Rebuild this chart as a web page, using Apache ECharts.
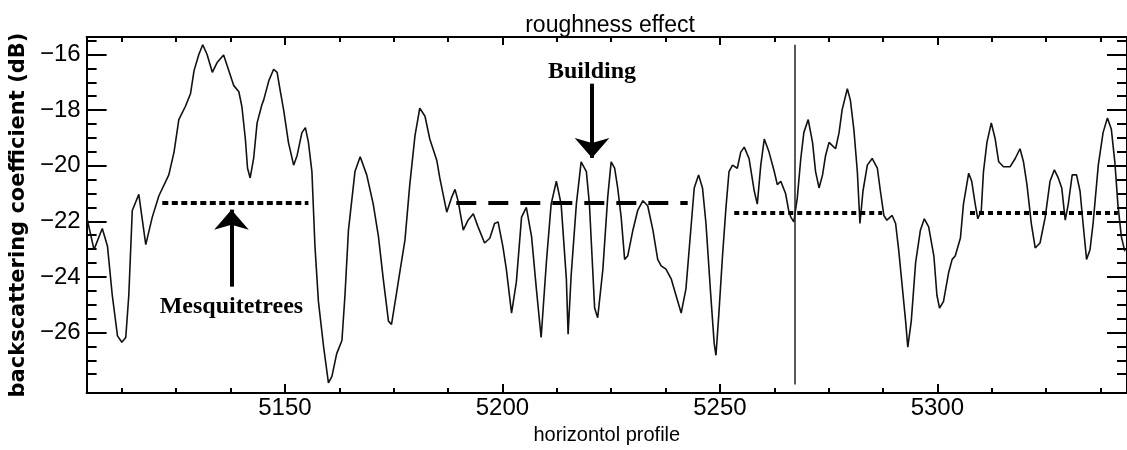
<!DOCTYPE html>
<html>
<head>
<meta charset="utf-8">
<title>roughness effect</title>
<script src="https://cdn.jsdelivr.net/npm/echarts@6/dist/echarts.min.js"></script>
<style>
  html, body { margin: 0; padding: 0; background: #fff; }
  #chart { width: 1127px; height: 450px; }
</style>
</head>
<body>
<div id="chart"></div>
<script>
// backscatter profile
const profileX = [
  5104.5, 5106.1, 5108.0, 5109.2, 5110.3, 5111.5, 5112.5, 5113.4, 5114.1, 5114.9,
  5116.4, 5118.0, 5119.5, 5121.0, 5123.3, 5124.5, 5125.6, 5127.1, 5128.3, 5129.1,
  5130.2, 5131.1, 5132.1, 5133.3, 5134.4, 5135.9, 5137.1, 5138.2, 5139.4, 5140.1,
  5140.9, 5141.4, 5142.0, 5142.8, 5143.6, 5144.7, 5145.1, 5146.3, 5147.4, 5148.2,
  5148.9, 5149.7, 5150.8, 5152.0, 5152.8, 5153.9, 5154.7, 5155.4, 5156.2, 5156.9,
  5157.7, 5158.9, 5160.0, 5160.8, 5161.9, 5163.1, 5163.8, 5164.6, 5166.1, 5167.3,
  5168.8, 5170.3, 5171.5, 5172.6, 5173.8, 5174.5, 5175.7, 5176.4, 5177.6, 5178.7,
  5179.9, 5181.0, 5182.2, 5183.3, 5184.9, 5185.6, 5187.2, 5188.3, 5189.1, 5189.8,
  5191.0, 5192.1, 5193.3, 5194.4, 5195.9, 5197.1, 5198.2, 5199.0, 5200.1, 5200.9,
  5202.1, 5203.2, 5204.4, 5205.5, 5206.7, 5207.8, 5208.9, 5210.1, 5211.2, 5212.4,
  5213.5, 5214.7, 5215.1, 5215.8, 5217.0, 5218.1, 5219.3, 5220.0, 5221.2, 5221.9,
  5223.1, 5224.2, 5225.0, 5225.8, 5226.5, 5227.3, 5228.1, 5228.8, 5230.0, 5231.1,
  5232.3, 5233.4, 5234.6, 5235.7, 5236.5, 5237.6, 5238.8, 5239.9, 5241.1, 5242.2,
  5243.3, 5244.1, 5245.1, 5246.0, 5246.8, 5247.9, 5248.7, 5249.1, 5249.8, 5250.6,
  5251.4, 5252.1, 5252.9, 5254.0, 5254.8, 5255.6, 5256.7, 5257.9, 5258.6, 5259.4,
  5260.2, 5261.3, 5262.5, 5263.2, 5264.0, 5265.1, 5265.8, 5266.3, 5267.0, 5267.8,
  5268.6, 5269.3, 5270.3, 5271.3, 5272.0, 5272.8, 5273.6, 5274.3, 5275.1, 5275.8,
  5276.6, 5277.4, 5278.1, 5279.3, 5280.0, 5280.8, 5281.6, 5282.2, 5282.9, 5283.9,
  5285.0, 5286.2, 5286.9, 5287.7, 5288.4, 5289.6, 5290.4, 5291.1, 5291.9, 5292.7,
  5293.2, 5294.0, 5295.0, 5296.1, 5297.0, 5298.0, 5299.2, 5299.9, 5300.5, 5301.4,
  5302.6, 5303.4, 5304.1, 5305.3, 5306.0, 5307.2, 5307.9, 5308.7, 5309.3, 5310.1,
  5310.6, 5311.4, 5312.4, 5313.3, 5314.1, 5315.2, 5316.7, 5317.9, 5319.0, 5319.8,
  5320.6, 5321.6, 5322.5, 5323.6, 5324.8, 5325.9, 5326.9, 5327.8, 5328.6, 5329.4,
  5330.1, 5331.0, 5332.0, 5332.8, 5333.5, 5334.3, 5335.1, 5335.8, 5337.0, 5338.1,
  5339.1, 5340.0, 5340.8, 5341.5, 5342.3, 5343.1
];
const profileY = [
  -21.90, -23.02, -22.26, -22.90, -24.66, -26.12, -26.35, -26.18, -24.66, -21.61,
  -21.03, -22.84, -21.85, -21.09, -20.33, -19.51, -18.34, -17.87, -17.40, -16.58,
  -16.00, -15.65, -16.00, -16.64, -16.29, -16.02, -16.58, -17.11, -17.34, -17.87,
  -19.04, -20.09, -20.44, -19.74, -18.46, -17.81, -17.64, -16.94, -16.53, -16.64,
  -17.29, -17.99, -19.16, -19.98, -19.63, -18.81, -18.63, -19.16, -20.21, -22.90,
  -24.89, -26.53, -27.81, -27.58, -26.76, -26.29, -24.66, -22.32, -20.21, -19.68,
  -20.33, -21.38, -22.55, -24.07, -25.59, -25.71, -24.54, -23.84, -22.67, -20.68,
  -18.92, -17.93, -18.22, -19.04, -19.80, -20.44, -21.67, -21.15, -20.85, -21.26,
  -22.32, -21.96, -21.73, -22.20, -22.78, -22.61, -22.08, -22.02, -22.90, -23.72,
  -25.30, -24.19, -21.85, -21.50, -22.55, -24.42, -26.18, -23.49, -21.38, -20.56,
  -21.38, -24.07, -26.06, -23.95, -21.38, -19.86, -20.21, -21.38, -25.12, -25.47,
  -23.72, -21.15, -19.86, -20.09, -20.80, -21.85, -23.37, -23.25, -22.32, -21.61,
  -21.26, -21.44, -22.32, -23.37, -23.60, -23.72, -24.07, -24.66, -25.30, -24.42,
  -22.32, -20.80, -20.33, -20.80, -22.08, -24.66, -26.41, -26.82, -25.24, -23.25,
  -21.50, -20.21, -19.98, -20.09, -19.51, -19.33, -19.74, -20.91, -21.38, -19.98,
  -19.04, -19.51, -20.21, -20.68, -20.56, -21.00, -21.60, -21.85, -22.02, -21.15,
  -19.74, -18.81, -18.34, -19.16, -20.21, -20.80, -20.33, -19.63, -19.16, -19.27,
  -19.39, -18.81, -17.99, -17.23, -17.64, -18.69, -20.21, -22.08, -20.91, -19.98,
  -19.74, -20.09, -20.91, -21.79, -21.96, -21.79, -22.08, -23.02, -24.30, -25.59,
  -26.53, -25.59, -23.49, -22.32, -21.91, -22.20, -23.25, -24.66, -25.12, -24.89,
  -23.84, -23.37, -23.25, -22.60, -21.38, -20.27, -20.56, -21.38, -21.91, -21.61,
  -20.21, -19.16, -18.46, -19.04, -19.86, -20.04, -20.04, -19.74, -19.39, -19.86,
  -20.68, -22.08, -22.96, -22.78, -21.85, -20.56, -20.15, -20.44, -20.80, -21.96,
  -21.38, -20.33, -20.33, -20.91, -22.08, -23.37, -23.02, -22.08, -19.98, -18.81,
  -18.28, -18.69, -19.86, -21.38, -22.55, -23.08
];

// axis ticks
const xMajorTicks = [5150, 5200, 5250, 5300];
const xMinorTicks = [5112.5, 5125, 5137.5, 5162.5, 5175, 5187.5, 5212.5, 5225, 5237.5,
  5262.5, 5275, 5287.5, 5312.5, 5325, 5337.5];
const yMajorTicks = [-26, -24, -22, -20, -18, -16];
const yMinorTicks = [-27.5, -27, -26.5, -25.5, -25, -24.5, -23.5, -23, -22.5, -21.5, -21,
  -20.5, -19.5, -19, -18.5, -17.5, -17, -16.5, -15.5];

// mean levels: [x from, x to, level]
const mesquiteLevel = [5121.8, 5155.4, -21.34];
const buildingLevel = [5189.4, 5242.6, -21.34];
const rightLevelA = [5253.3, 5287.3, -21.71];
const rightLevelB = [5307.5, 5341.5, -21.71];

// vertical marker and annotation arrows: [x, y from, y to]
const dividerLine = [5267.2, -15.65, -27.87];
const buildingArrow = [5220.6, -17.05, -19.72];
const mesquiteArrow = [5137.7, -24.35, -21.58];

const xMin = 5104.4, xMax = 5343.6;
const yMin = -28.18, yMax = -15.37;

const profile = profileX.map((x, i) => [x, profileY[i]]);

const tickFont = 'Liberation Sans Narrow, Liberation Sans, sans-serif';

function xAxisOf(position, ticks, len, withLine, withLabel) {
  return {
    type: 'value', position, min: xMin, max: xMax,
    axisLine: { show: withLine, onZero: false, lineStyle: { color: '#000', width: 2 } },
    axisTick: { show: true, inside: true, length: len, customValues: ticks,
      lineStyle: { color: '#000', width: 2 } },
    axisLabel: withLabel
      ? { show: true, customValues: ticks, color: '#000', fontFamily: tickFont, fontSize: 24, margin: 3,
          formatter: (v) => String(v) }
      : { show: false },
    splitLine: { show: false }
  };
}

function yAxisOf(position, ticks, len, withLine, withLabel) {
  return {
    type: 'value', position, min: yMin, max: yMax,
    axisLine: { show: withLine, onZero: false, lineStyle: { color: '#000', width: 2 } },
    axisTick: { show: true, inside: true, length: len, customValues: ticks,
      lineStyle: { color: '#000', width: 2 } },
    axisLabel: withLabel
      ? { show: true, customValues: ticks, color: '#000', fontFamily: tickFont, fontSize: 24, margin: 6,
          formatter: (v) => String(v).replace('-', '\u2212') }
      : { show: false },
    splitLine: { show: false }
  };
}

function levelLine(seg, dash) {
  return [
    { coord: [seg[0], seg[2]], lineStyle: { color: '#000', width: 4, type: dash } },
    { coord: [seg[1], seg[2]] }
  ];
}

function arrowLine(arrow, text, gap) {
  return [
    { coord: [arrow[0], arrow[1]], symbol: 'none',
      lineStyle: { color: '#000', width: 4, type: 'solid' },
      label: { show: true, position: 'start', distance: gap, formatter: text, color: '#000',
        fontFamily: 'Liberation Serif, Times New Roman, serif', fontWeight: 'bold', fontSize: 24 } },
    { coord: [arrow[0], arrow[2]], symbol: 'arrow', symbolSize: [26, 20] }
  ];
}

const xNameAxis = xAxisOf('bottom', xMajorTicks, 9, true, true);
xNameAxis.name = 'horizontol profile';
xNameAxis.nameLocation = 'middle';
xNameAxis.nameGap = 23;
xNameAxis.nameTextStyle = { color: '#000', fontFamily: 'Liberation Sans, sans-serif', fontSize: 20 };

const yNameAxis = yAxisOf('left', yMajorTicks, 20, true, true);
yNameAxis.name = 'backscattering coefficient (dB)';
yNameAxis.nameLocation = 'middle';
yNameAxis.nameGap = 53;
yNameAxis.nameTextStyle = { color: '#000', fontFamily: 'DejaVu Sans, sans-serif', fontWeight: 'bold', fontSize: 21 };

const chart = echarts.init(document.getElementById('chart'));
chart.setOption({
  backgroundColor: '#fff',
  animation: false,
  title: {
    text: 'roughness effect',
    left: 605, top: 9, textAlign: 'center',
    textStyle: { color: '#000', fontFamily: 'Liberation Sans, sans-serif', fontWeight: 'normal', fontSize: 23 }
  },
  grid: { left: 84, right: 0, top: 37, bottom: 48 },
  xAxis: [
    xNameAxis,
    xAxisOf('bottom', xMinorTicks, 5, false, false),
    xAxisOf('top', xMajorTicks, 8, true, false),
    xAxisOf('top', xMinorTicks, 5, false, false)
  ],
  yAxis: [
    yNameAxis,
    yAxisOf('left', yMinorTicks, 10, false, false),
    yAxisOf('right', yMajorTicks, 20, true, false),
    yAxisOf('right', yMinorTicks, 10, false, false)
  ],
  series: [
    {
      name: 'backscatter',
      type: 'line',
      data: profile,
      showSymbol: false,
      symbol: 'none',
      lineStyle: { color: '#111', width: 1.6 },
      clip: true,
      markLine: {
        silent: true,
        animation: false,
        symbol: ['none', 'none'],
        label: { show: false },
        emphasis: { disabled: true },
        data: [
          levelLine(mesquiteLevel, [6, 3.5]),
          levelLine(buildingLevel, [20, 12]),
          levelLine(rightLevelA, [5, 4]),
          levelLine(rightLevelB, [5, 4]),
          [
            { coord: [dividerLine[0], dividerLine[1]], lineStyle: { color: '#222', width: 1.5, type: 'solid' } },
            { coord: [dividerLine[0], dividerLine[2]] }
          ],
          arrowLine(buildingArrow, 'Building', 0),
          arrowLine(mesquiteArrow, 'Mesquitetrees', 8)
        ]
      }
    }
  ]
});
</script>
</body>
</html>
